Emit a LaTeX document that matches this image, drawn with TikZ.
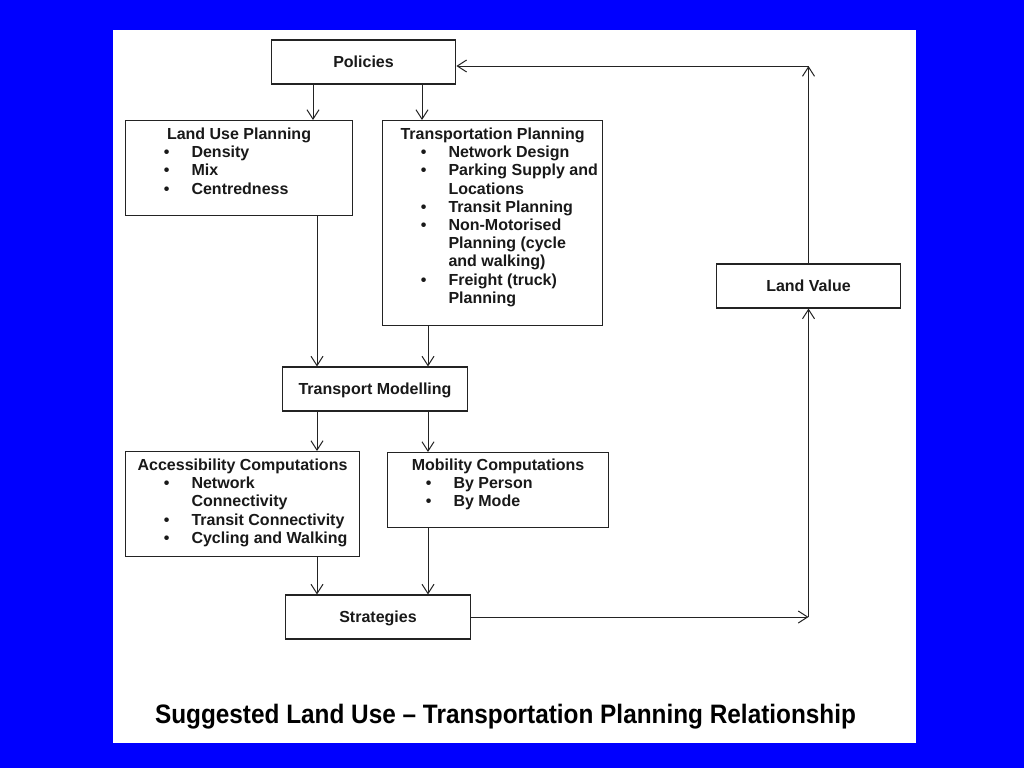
\documentclass[tikz,border=0pt]{standalone}
\usepackage{fontspec}
\setmainfont{Liberation Sans}
\usepackage{graphicx}
\usetikzlibrary{arrows.meta,calc}
\definecolor{SlideBlue}{RGB}{0,0,255}
\definecolor{InkGray}{RGB}{35,35,35}
\newenvironment{blist}{%
  \begin{list}{\textbullet}{\setlength{\leftmargin}{49.5pt}\setlength{\labelsep}{16.5pt}%
    \setlength{\labelwidth}{20pt}\setlength{\itemsep}{0pt}\setlength{\parsep}{0pt}%
    \setlength{\topsep}{0pt}\setlength{\partopsep}{0pt}\setlength{\rightmargin}{0pt}}}%
  {\end{list}}
\newcommand{\boxtext}[5][14.2pt]{\parbox[c][#3][t]{#2}{%
  {\centering\rule{0pt}{#1}#4\par}\raggedright\begin{blist}#5\end{blist}}}
\tikzset{
  panel/.style={draw=InkGray,line width=0.8pt,fill=white,inner sep=0pt,text=black!90,
    font=\fontsize{12pt}{13.65pt}\selectfont\bfseries},
  single/.style={panel,minimum width=138.5pt,minimum height=33pt,text height=8.6pt,text depth=0pt},
  arr/.style={draw=InkGray,line width=0.75pt,-{Straight Barb[length=7pt,width=9pt]}},
}
\begin{document}
\begin{tikzpicture}[x=0.75pt,y=-0.75pt]
  \useasboundingbox (0,0) rectangle (1024,768);
  \fill[SlideBlue] (0,0) rectangle (1024,768);
  \fill[white] (113,30) rectangle (916,743);

  \node[single] (pol) at (363.5,62) {Policies};
  \node[panel,anchor=north west] (landuse) at (125,120)
    {\boxtext{170.25pt}{71.25pt}{Land Use Planning}{\item Density \item Mix \item Centredness}};
  \node[panel,anchor=north west] (transp) at (382,120)
    {\boxtext{165pt}{153.75pt}{Transportation Planning}{\item Network Design
      \item Parking Supply and\\ Locations \item Transit Planning
      \item Non-Motorised\\ Planning (cycle\\ and walking) \item Freight (truck)\\ Planning}};
  \node[single] (model) at (375,389) {Transport Modelling};
  \node[panel,anchor=north west] (access) at (125,451)
    {\boxtext{175.5pt}{78.75pt}{Accessibility Computations}{\item Network\\ Connectivity
      \item Transit Connectivity \item Cycling and Walking}};
  \node[panel,anchor=north west] (mobil) at (387,452)
    {\boxtext[13.2pt]{165.75pt}{56.25pt}{Mobility Computations}{\item By Person \item By Mode}};
  \node[single] (strat) at (378,617) {Strategies};
  \node[single] (landval) at (808.5,286) {Land Value};

  \coordinate (l1) at (313,0);
  \coordinate (l2) at (317,0);
  \coordinate (r1) at (422,0);
  \coordinate (r2) at (428,0);
  \foreach \a/\b/\c in {pol/landuse/l1,pol/transp/r1,landuse/model/l2,transp/model/r2,
      model/access/l2,model/mobil/r2,access/strat/l2,mobil/strat/r2}
    \draw[arr] (\a.south -| \c) -- (\b.north -| \c);

  \coordinate (cornerA) at (landval.south |- strat.east);
  \coordinate (cornerB) at (808.5,66);
  \draw[arr] (strat.east) -- (cornerA);
  \draw[arr] (cornerA) -- (landval.south);
  \draw[arr] (landval.north) -- (cornerB);
  \draw[arr] (cornerB) -- (pol.east |- cornerB);

  \node[anchor=base,text=black] (title) at (505.5,723)
    {\resizebox{525.75pt}{\height}{\fontsize{20pt}{24pt}\selectfont\bfseries
      Suggested Land Use -- Transportation Planning Relationship}};
\end{tikzpicture}
\end{document}
